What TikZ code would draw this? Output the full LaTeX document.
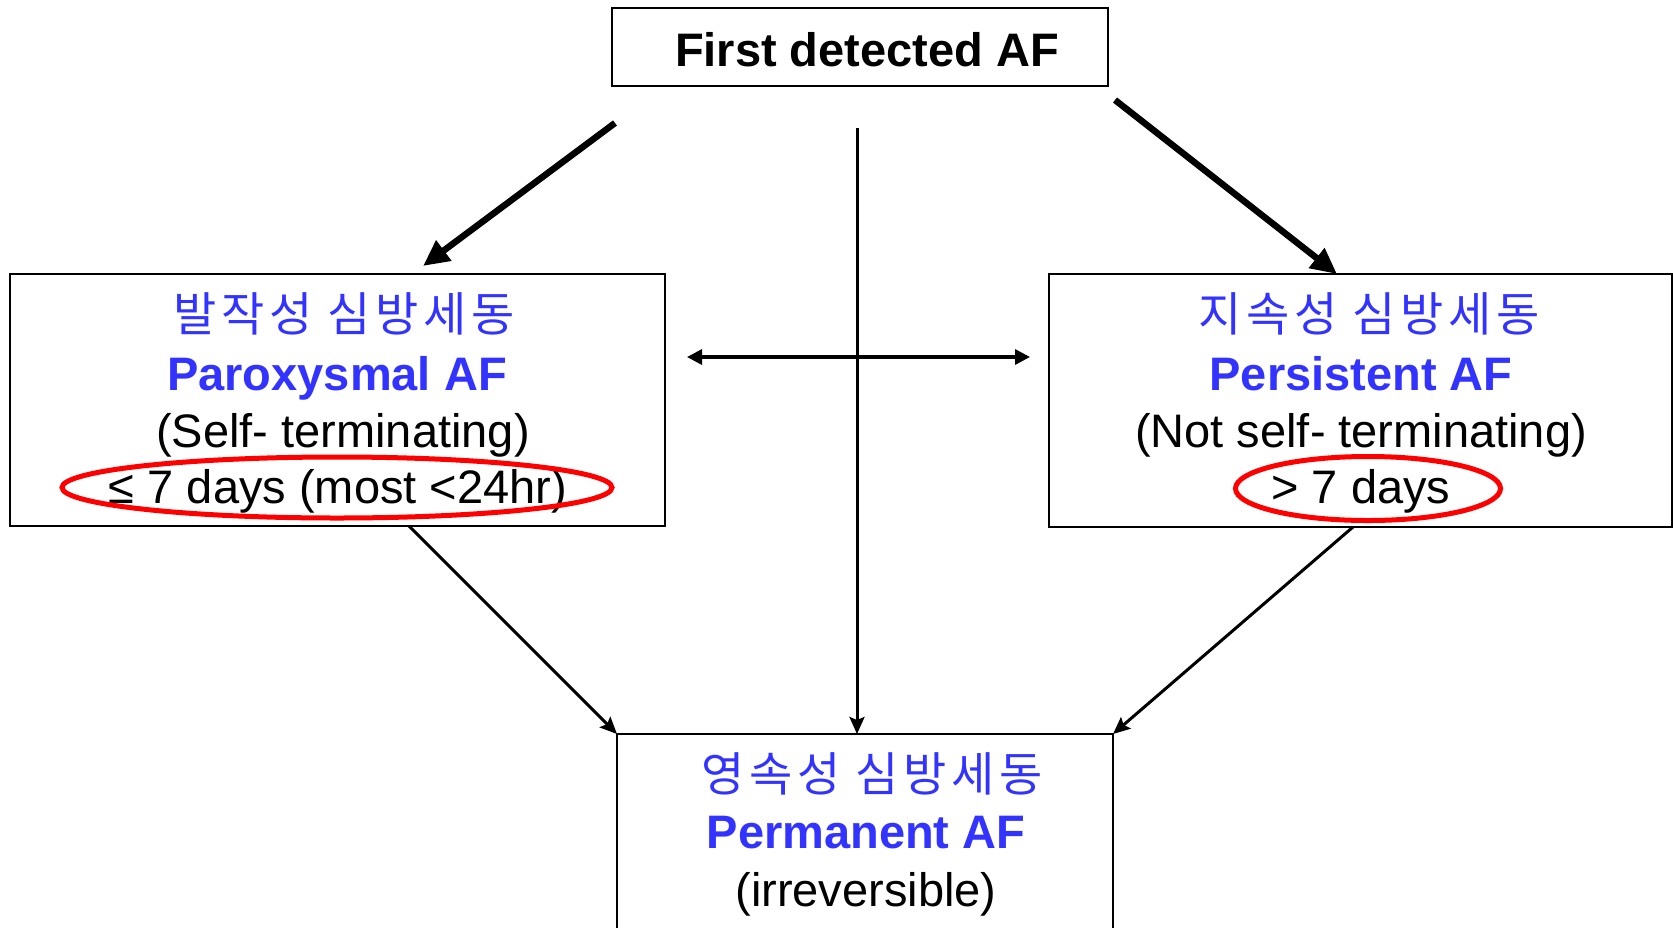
\documentclass[tikz,border=0pt]{standalone}
\usepackage{fontspec}
\setmainfont{Liberation Sans}
\newfontfamily\krfont[LetterSpace=10]{Noto Sans CJK KR}
\usetikzlibrary{arrows.meta,calc}
\definecolor{afblue}{RGB}{51,51,255}
\definecolor{markred}{RGB}{255,0,0}

\tikzset{
  box/.style={draw, line width=2pt, inner sep=0pt, outer sep=0pt},
  krline/.style={font=\krfont\fontsize{47}{50}\selectfont, text=afblue, anchor=base, inner sep=0pt},
  nameline/.style={font=\bfseries\fontsize{47}{50}\selectfont, text=afblue, anchor=base, inner sep=0pt},
  plainline/.style={font=\fontsize{47}{50}\selectfont, anchor=base, inner sep=0pt},
  headline/.style={font=\bfseries\fontsize{47}{50}\selectfont, anchor=base, inner sep=0pt},
  redring/.style={draw=markred, line width=5pt},
  bigarrow/.style={line width=6.5pt, -{Triangle[length=26pt,width=24pt]}},
  smallarrow/.style={line width=3pt, -{Stealth[length=17pt,width=15pt,inset=3pt]}},
  botharrow/.style={line width=3.3pt, {Triangle[length=15pt,width=15pt]}-{Triangle[length=15pt,width=15pt]}}
}

\begin{document}
\begin{tikzpicture}[x=1pt,y=-1pt]
\useasboundingbox (0,0) rectangle (1673,927);

% boxes
\node[box, minimum width=496pt, minimum height=78pt] (first) at (860,47) {};
\node[box, minimum width=655pt, minimum height=252pt] (par) at (337.5,400) {};
\node[box, minimum width=623pt, minimum height=253pt] (per) at (1360.5,400.5) {};
\begin{scope}
  \clip (0,0) rectangle (1673,927);
  \node[box, minimum width=496pt, minimum height=300pt] (perm) at (865,884) {};
\end{scope}

% texts
\node[headline] (firstlbl) at (867,66) {First detected AF};

\node[krline]    (parkr)  at (344,331) {발작성 심방세동};
\node[nameline]  (parname) at (337,390) {Paroxysmal AF};
\node[plainline] (parnote) at (343,447) {(Self- terminating)};
\node[plainline] (pardays) at (338,503) {≤ 7 days (most <24hr)};

\node[krline]    (perkr)  at (1369,331) {지속성 심방세동};
\node[nameline]  (pername) at (1361,390) {Persistent AF};
\node[plainline] (pernote) at (1361,447) {(Not self- terminating)};
\node[plainline] (perdays) at (1361,503) {> 7 days};

\node[krline]    (permkr)  at (872,791) {영속성 심방세동};
\node[nameline]  (permname) at (866,848) {Permanent AF};
\node[plainline] (permnote) at (866,906) {(irreversible)};

% red highlight ellipses
\draw[redring] (337,487.5) ellipse [x radius=275, y radius=30.5];
\draw[redring] (1368,488.5) ellipse [x radius=132.5, y radius=32];

% connector start points
\coordinate (tlstart) at (615,123);
\coordinate (trstart) at (1115,100);
\coordinate (vstart) at (857,128);
\coordinate (hleft) at (687,357);
\coordinate (hright) at (1030,357);

% connectors
\draw[bigarrow] (tlstart) -- ($(par.north west)+(413,-8)$);
\draw[bigarrow] (trstart) -- ($(per.north west)+(288,0)$);
\draw[smallarrow] (vstart) -- ($(perm.north west)+(240,0)$);
\draw[botharrow] (hleft) -- (hright);
\draw[smallarrow] ($(par.south west)+(399,0)$) -- (perm.north west);
\draw[smallarrow] ($(per.south west)+(304,0)$) -- (perm.north east);
\end{tikzpicture}
\end{document}
